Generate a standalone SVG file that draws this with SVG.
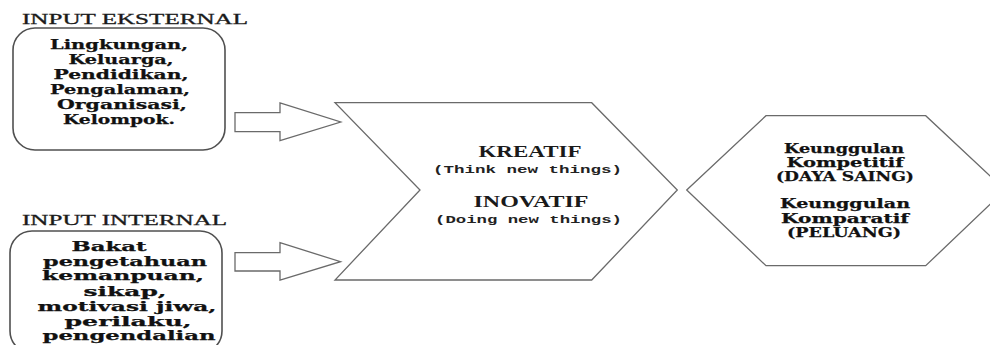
<svg xmlns="http://www.w3.org/2000/svg" width="990" height="345" viewBox="0 0 990 345">
  <style>
    .box { fill: #ffffff; stroke: #505050; stroke-width: 1.6; }
    .shape { fill: #ffffff; stroke: #6a6a6a; stroke-width: 1.3; stroke-linejoin: miter; }
    .head { font-family: "Liberation Serif", serif; font-size: 15px; fill: #1a1a1a; stroke: #1a1a1a; stroke-width: 0.3; }
    .bold { font-family: "DejaVu Serif", "Liberation Serif", serif; font-weight: bold; font-size: 13px; fill: #111111; text-anchor: middle; stroke: #111111; stroke-width: 0.25; }
    .title { font-family: "Liberation Serif", serif; font-weight: bold; font-size: 16px; fill: #1a1a1a; text-anchor: middle; }
    .mono { font-family: "Liberation Mono", monospace; font-weight: bold; font-size: 11px; fill: #222222; }
  </style>

  <rect width="990" height="345" fill="#ffffff"/>

  <!-- external input -->
  <g id="input-eksternal">
    <text class="head" x="22" y="24" textLength="226" lengthAdjust="spacingAndGlyphs">INPUT EKSTERNAL</text>
    <rect class="box" x="13" y="28" width="212" height="122" rx="22" ry="22"/>
    <text class="bold" x="119" y="49" textLength="138" lengthAdjust="spacingAndGlyphs">Lingkungan,</text>
    <text class="bold" x="121" y="64" textLength="105" lengthAdjust="spacingAndGlyphs">Keluarga,</text>
    <text class="bold" x="121" y="79" textLength="135" lengthAdjust="spacingAndGlyphs">Pendidikan,</text>
    <text class="bold" x="120" y="94" textLength="140" lengthAdjust="spacingAndGlyphs">Pengalaman,</text>
    <text class="bold" x="122" y="109" textLength="130" lengthAdjust="spacingAndGlyphs">Organisasi,</text>
    <text class="bold" x="119" y="123.5" textLength="112" lengthAdjust="spacingAndGlyphs">Kelompok.</text>
  </g>

  <!-- internal input -->
  <g id="input-internal">
    <text class="head" x="22" y="225" textLength="205" lengthAdjust="spacingAndGlyphs">INPUT INTERNAL</text>
    <rect class="box" x="10" y="231" width="212" height="122" rx="22" ry="22"/>
    <text class="bold" x="109" y="251" textLength="75" lengthAdjust="spacingAndGlyphs">Bakat</text>
    <text class="bold" x="125" y="265.5" textLength="164" lengthAdjust="spacingAndGlyphs">pengetahuan</text>
    <text class="bold" x="123" y="280" textLength="162" lengthAdjust="spacingAndGlyphs">kemanpuan,</text>
    <text class="bold" x="125" y="296" textLength="83" lengthAdjust="spacingAndGlyphs">sikap,</text>
    <text class="bold" x="127" y="311" textLength="179" lengthAdjust="spacingAndGlyphs">motivasi jiwa,</text>
    <text class="bold" x="128" y="325.5" textLength="127" lengthAdjust="spacingAndGlyphs">perilaku,</text>
    <text class="bold" x="129" y="339.5" textLength="173" lengthAdjust="spacingAndGlyphs">pengendalian</text>
  </g>

  <!-- block arrows into the process -->
  <g id="connectors">
    <polygon class="shape" points="235,112.7 280,112.7 280,103 340.7,122 280,140.7 280,131.7 235,131.7"/>
    <polygon class="shape" points="235,252.7 280,252.7 280,242.7 340.5,261.7 280,280 280,271 235,271"/>
  </g>

  <!-- process chevron -->
  <g id="proses">
    <polygon class="shape" points="335,102.7 591.7,102.7 677.3,190 591.7,280 335,280 420,190"/>
    <text class="title" x="530" y="156.7" textLength="103" lengthAdjust="spacingAndGlyphs">KREATIF</text>
    <text class="mono" x="433" y="173" textLength="189" lengthAdjust="spacingAndGlyphs">(Think new things)</text>
    <text class="title" x="531" y="207.3" textLength="115" lengthAdjust="spacingAndGlyphs">INOVATIF</text>
    <text class="mono" x="435" y="223.3" textLength="187" lengthAdjust="spacingAndGlyphs">(Doing new things)</text>
  </g>

  <!-- outcome hexagon -->
  <g id="keunggulan">
    <polygon class="shape" points="686.7,190 766,115.7 925.7,115.7 1005,190 925.7,265.7 766,265.7"/>
    <text class="bold" x="844" y="152.7" textLength="120" lengthAdjust="spacingAndGlyphs">Keunggulan</text>
    <text class="bold" x="845" y="166.7" textLength="117" lengthAdjust="spacingAndGlyphs">Kompetitif</text>
    <text class="bold" x="845" y="180.7" textLength="138" lengthAdjust="spacingAndGlyphs">(DAYA SAING)</text>
    <text class="bold" x="845" y="208.3" textLength="130" lengthAdjust="spacingAndGlyphs">Keunggulan</text>
    <text class="bold" x="845" y="222.7" textLength="128" lengthAdjust="spacingAndGlyphs">Komparatif</text>
    <text class="bold" x="844" y="236.7" textLength="114" lengthAdjust="spacingAndGlyphs">(PELUANG)</text>
  </g>
</svg>
